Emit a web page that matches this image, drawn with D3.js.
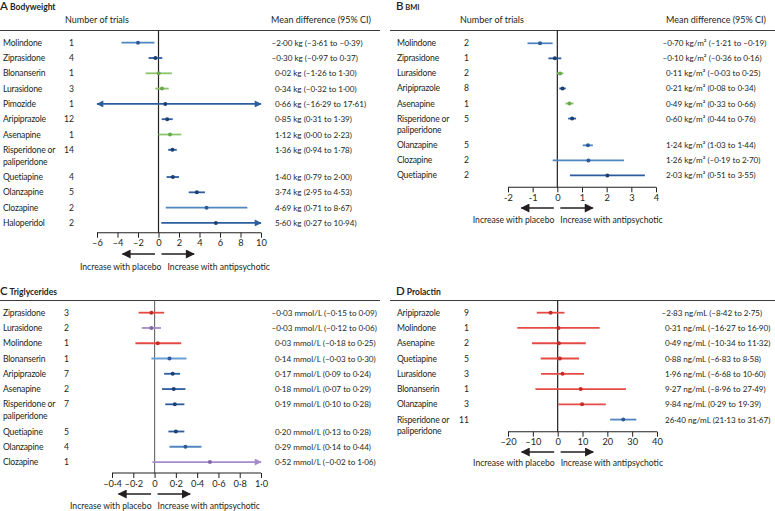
<!DOCTYPE html>
<html><head><meta charset="utf-8">
<script src="https://cdn.jsdelivr.net/npm/d3@7"></script>
<style>
html,body{margin:0;padding:0;background:#fff;}
svg{display:block;font-family:Lato,"Open Sans",sans-serif;}
</style></head>
<body><svg id="c" width="775" height="511"></svg>
<script>
// ---------- DATA ----------
// Panel A: Bodyweight
const aDrugs = ["Molindone","Ziprasidone","Blonanserin","Lurasidone","Pimozide","Aripiprazole","Asenapine","Risperidone or\npaliperidone","Quetiapine","Olanzapine","Clozapine","Haloperidol"];
const aTrials = [1,4,1,3,1,12,1,14,4,5,2,2];
const aMean = [-2.00,-0.30,0.02,0.34,0.66,0.85,1.12,1.36,1.40,3.74,4.69,5.60];
const aLow  = [-3.61,-0.97,-1.26,-0.32,-16.29,0.31,0.00,0.94,0.79,2.95,0.71,0.27];
const aHigh = [-0.39,0.37,1.30,1.00,17.61,1.39,2.23,1.78,2.00,4.53,8.67,10.94];
const aTone = ["mid","dark","green","green","dark","dark","green","dark","dark","dark","mid","dark"];
const aTicks = [-6,-4,-2,0,2,4,6,8,10];

// Panel B: BMI
const bDrugs = ["Molindone","Ziprasidone","Lurasidone","Aripiprazole","Asenapine","Risperidone or\npaliperidone","Olanzapine","Clozapine","Quetiapine"];
const bTrials = [2,1,2,8,1,5,5,2,2];
const bMean = [-0.70,-0.10,0.11,0.21,0.49,0.60,1.24,1.26,2.03];
const bLow  = [-1.21,-0.36,-0.03,0.08,0.33,0.44,1.03,-0.19,0.51];
const bHigh = [-0.19,0.16,0.25,0.34,0.66,0.76,1.44,2.70,3.55];
const bTone = ["mid","dark","green","dark","green","dark","mid","mid","dark"];
const bTicks = [-2,-1,0,1,2,3,4];

// Panel C: Triglycerides
const cDrugs = ["Ziprasidone","Lurasidone","Molindone","Blonanserin","Aripiprazole","Asenapine","Risperidone or\npaliperidone","Quetiapine","Olanzapine","Clozapine"];
const cTrials = [3,2,1,1,7,2,7,5,4,1];
const cMean = [-0.03,-0.03,0.03,0.14,0.17,0.18,0.19,0.20,0.29,0.52];
const cLow  = [-0.15,-0.12,-0.18,-0.03,0.09,0.07,0.10,0.13,0.14,-0.02];
const cHigh = [0.09,0.06,0.25,0.30,0.24,0.29,0.28,0.28,0.44,1.06];
const cTone = ["red","purple","red","light","dark","dark","dark","dark","mid","purple"];
const cTicks = [-0.4,-0.2,0,0.2,0.4,0.6,0.8,1.0];

// Panel D: Prolactin
const dDrugs = ["Aripiprazole","Molindone","Asenapine","Quetiapine","Lurasidone","Blonanserin","Olanzapine","Risperidone or\npaliperidone"];
const dTrials = [9,1,2,5,3,1,3,11];
const dMean = [-2.83,0.31,0.49,0.88,1.96,9.27,9.84,26.40];
const dLow  = [-8.42,-16.27,-10.34,-6.83,-6.68,-8.96,0.29,21.13];
const dHigh = [2.75,16.90,11.32,8.58,10.60,27.49,19.39,31.67];
const dTone = ["red","red","red","red","red","red","red","mid"];
const dTicks = [-20,-10,0,10,20,30,40];

// ---------- STYLE ----------
const toneLine = {dark:"#2b5d9f", mid:"#4f86c2", light:"#6b9fd3", green:"#8cc46b", red:"#e64a44", purple:"#a68bc9"};
const toneDot  = {dark:"#1d3f73", mid:"#2c5b98", light:"#2c5b98", green:"#6aa84f", red:"#c92a25", purple:"#8266a6"};
const ink = "#231f20";
const FS = 8.6;      // names / numbers
const CIFS = 8.1;    // CI column

const svg = d3.select("#c");
const defs = svg.append("defs");
function marker(id, color, w, h){
  const m = defs.append("marker").attr("id", id).attr("viewBox","0 0 10 10")
    .attr("refX", 9).attr("refY", 5).attr("markerWidth", w).attr("markerHeight", h)
    .attr("markerUnits","userSpaceOnUse").attr("orient","auto-start-reverse");
  m.append("path").attr("d","M0,0L10,5L0,10Z").attr("fill", color);
}
Object.keys(toneLine).forEach(k => marker("arr-"+k, toneLine[k], 9, 7));
marker("arr-black", "#231f20", 10, 9);

const num = (v, d) => (v < 0 ? "\u2013" : "") + Math.abs(v).toFixed(d).replace(".", "\u00b7");

function panel(cfg){
  const g = svg.append("g");
  const n = cfg.drugs.length;
  const slots = []; let s = 0;
  cfg.drugs.forEach(d => { slots.push(s); s += d.includes("\n") ? 1.78 : 1; });
  const y = d3.scaleLinear().domain([0,1]).range([cfg.row0, cfg.row0 + cfg.step]);
  const x = d3.scaleLinear().domain(cfg.domain).range(cfg.range);
  const [dmin, dmax] = cfg.domain;

  const t = g.append("text").attr("x", cfg.titleX).attr("y", cfg.titleY).attr("fill", ink);
  t.append("tspan").text(cfg.letter).attr("font-size", 11.5).attr("font-weight", 600);
  t.append("tspan").text(" " + cfg.title).attr("font-size", cfg.titleSize || 8.5).attr("font-weight", 700);

  if (cfg.header){
    g.append("text").attr("x", cfg.hdrTrialsX).attr("y", cfg.titleY + 13).attr("font-size", 9).attr("fill", ink).text("Number of trials");
    g.append("text").attr("x", cfg.hdrCiX).attr("y", cfg.titleY + 13).attr("font-size", 9).attr("fill", ink).text("Mean difference (95% CI)");
  }
  g.append("line").attr("x1", cfg.ruleX[0]).attr("x2", cfg.ruleX[1]).attr("y1", cfg.ruleY).attr("y2", cfg.ruleY)
    .attr("stroke", "#3a3a3a").attr("stroke-width", 1);

  g.append("line").attr("x1", x(0)).attr("x2", x(0)).attr("y1", cfg.ruleY).attr("y2", cfg.axisY)
    .attr("stroke", cfg.zeroColor || ink).attr("stroke-width", 1.2);

  for (let i = 0; i < n; i++){
    const yy = y(slots[i]);
    const lines = cfg.drugs[i].split("\n");
    const nt = g.append("text").attr("x", cfg.nameX).attr("y", yy + 3).attr("font-size", FS)
      .attr("letter-spacing", -0.2).attr("fill", ink);
    lines.forEach((l, k) => nt.append("tspan").attr("x", cfg.nameX).attr("dy", k ? 11.8 : 0).text(l));
    g.append("text").attr("x", cfg.trialsX).attr("y", yy + 3).attr("font-size", FS).attr("fill", ink)
      .attr("text-anchor", "end").text(cfg.trials[i]);
    const ci = `${num(cfg.mean[i],2)} ${cfg.unit} (${num(cfg.low[i],2)} to ${num(cfg.high[i],2)})`;
    g.append("text").attr("x", cfg.ciX - (cfg.mean[i] < 0 ? 3.5 : 0)).attr("y", yy + 3).attr("font-size", CIFS)
      .attr("fill", ink).text(ci);

    const tone = cfg.tone[i];
    const lo = Math.max(cfg.low[i], dmin), hi = Math.min(cfg.high[i], dmax);
    const ln = g.append("line").attr("x1", x(lo)).attr("x2", x(hi)).attr("y1", yy).attr("y2", yy)
      .attr("stroke", toneLine[tone]).attr("stroke-width", 1.8);
    if (cfg.low[i] < dmin) ln.attr("marker-start", `url(#arr-${tone})`);
    if (cfg.high[i] > dmax) ln.attr("marker-end", `url(#arr-${tone})`);
    g.append("circle").attr("cx", x(cfg.mean[i])).attr("cy", yy).attr("r", 2)
      .attr("fill", toneDot[tone]);
  }

  const ax = g.append("g").attr("transform", `translate(0,${cfg.axisY})`)
    .call(d3.axisBottom(x).tickValues(cfg.ticks).tickSize(5).tickPadding(2).tickFormat(cfg.fmt));
  ax.select(".domain").attr("stroke", ink).attr("stroke-width", 1.1).attr("d", `M${x(dmin)},0H${x(dmax)}`);
  ax.selectAll(".tick line").attr("stroke", ink).attr("stroke-width", 1);
  ax.selectAll(".tick text").attr("font-size", 9.3).attr("fill", ink).attr("font-family", "Lato, 'Open Sans', sans-serif");

  const z = x(0);
  g.append("line").attr("x1", z - 3.5).attr("x2", z - 36).attr("y1", cfg.arrowY).attr("y2", cfg.arrowY)
    .attr("stroke", ink).attr("stroke-width", 1.6).attr("marker-end", "url(#arr-black)");
  g.append("line").attr("x1", z + 3).attr("x2", z + 35.5).attr("y1", cfg.arrowY).attr("y2", cfg.arrowY)
    .attr("stroke", ink).attr("stroke-width", 1.6).attr("marker-end", "url(#arr-black)");
  const sx = z + (cfg.labelShift || 0);
  g.append("text").attr("x", sx - 3).attr("y", cfg.labelY).attr("text-anchor", "end").attr("font-size", FS)
    .attr("fill", ink).text("Increase with placebo");
  g.append("text").attr("x", sx + 3).attr("y", cfg.labelY).attr("text-anchor", "start").attr("font-size", FS)
    .attr("fill", ink).text("Increase with antipsychotic");
}

const fmtInt = d => (d < 0 ? "\u2013" : "") + Math.abs(d);
panel({letter:"A", title:"Bodyweight", titleX:0, titleY:10, header:true, hdrTrialsX:65, hdrCiX:271,
  ruleX:[0,380], ruleY:30.5, drugs:aDrugs, trials:aTrials, mean:aMean, low:aLow, high:aHigh, tone:aTone,
  unit:"kg", nameX:3, trialsX:74, ciX:275, domain:[-6,10], range:[97,261], row0:42.7, step:15.3,
  axisY:232.7, ticks:aTicks, fmt:fmtInt, arrowY:254, labelY:270, labelShift:6});
panel({letter:"B", title:"BMI", titleSize:7.5, titleX:396, titleY:10, header:true, hdrTrialsX:460, hdrCiX:666,
  ruleX:[390,775], ruleY:30.5, drugs:bDrugs, trials:bTrials, mean:bMean, low:bLow, high:bHigh, tone:bTone,
  unit:"kg/m\u00b2", nameX:397, trialsX:469, ciX:666, domain:[-2,4], range:[508,656], row0:43.3, step:15.05,
  axisY:187.3, ticks:bTicks, fmt:d => d, arrowY:208, labelY:223});
panel({letter:"C", title:"Triglycerides", titleX:0, titleY:295, header:false,
  ruleX:[0,380], ruleY:300.5, drugs:cDrugs, trials:cTrials, mean:cMean, low:cLow, high:cHigh, tone:cTone,
  unit:"mmol/L", nameX:3, trialsX:69, ciX:275, domain:[-0.4,1.0], range:[112,261], row0:312.7, step:15.27,
  axisY:473, ticks:cTicks, fmt:d => d === 0 ? "0" : num(d,1), arrowY:494, labelY:509, zeroColor:"#6d6d6d"});
panel({letter:"D", title:"Prolactin", titleX:396, titleY:295, header:false,
  ruleX:[390,775], ruleY:300.5, drugs:dDrugs, trials:dTrials, mean:dMean, low:dLow, high:dHigh, tone:dTone,
  unit:"ng/mL", nameX:397, trialsX:469, ciX:665, domain:[-20,40], range:[508,657], row0:312.7, step:15.27,
  axisY:431.7, ticks:dTicks, fmt:fmtInt, arrowY:452, labelY:466});
</script></body></html>
